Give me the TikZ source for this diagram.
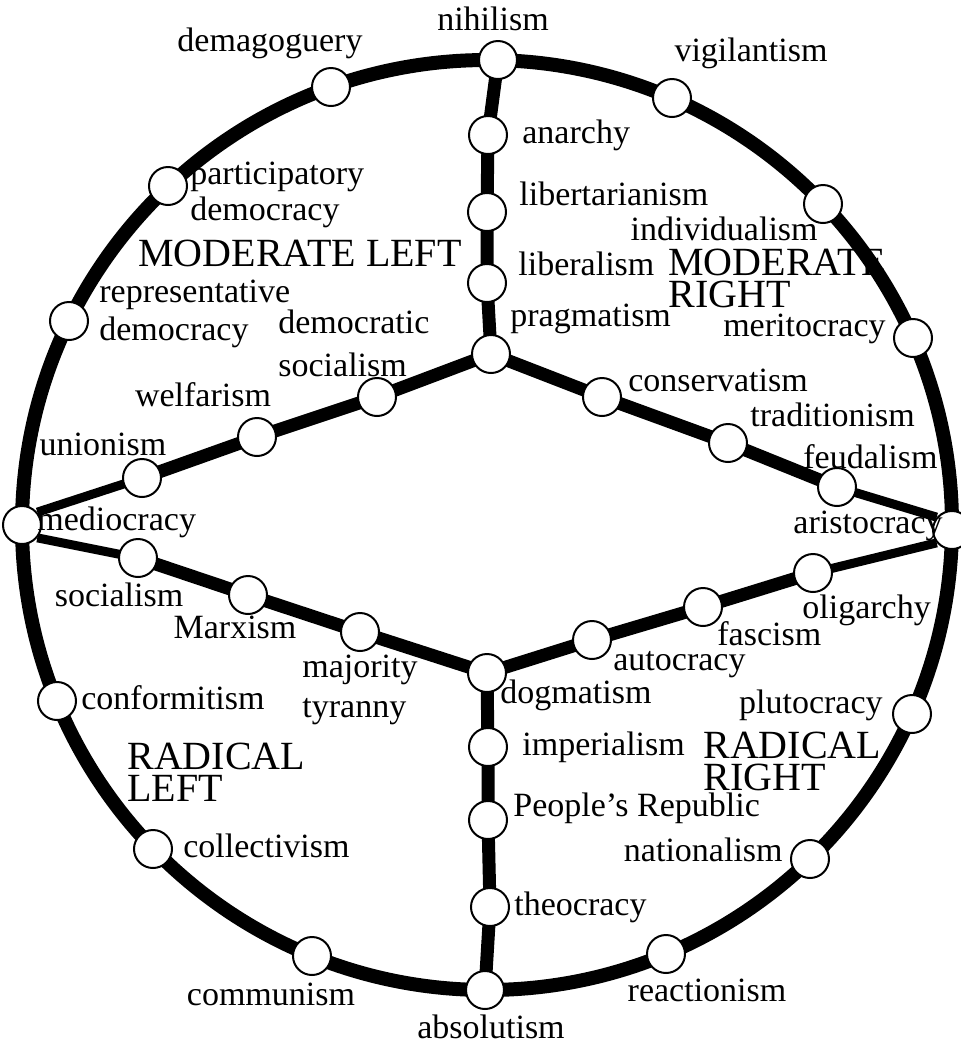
\documentclass[tikz,border=0pt]{standalone}
\usepackage{fontspec}
\setmainfont{Liberation Serif}
\usepackage{tikz}
\usetikzlibrary{positioning, backgrounds}
\newcommand{\labfont}{\fontsize{17}{18}\selectfont}
\newcommand{\zonefont}{\fontsize{20}{16}\selectfont}

\begin{document}
\begin{tikzpicture}[
    x=0.5pt, y=-0.5pt,
    ball/.style={circle, draw=black, fill=white, line width=1pt, minimum size=19pt, inner sep=0pt},
    ring/.style={draw=black, line width=7pt},
    spoke/.style={draw=black, line width=6.5pt, line join=round},
    thinspoke/.style={draw=black, line width=4.5pt},
    lab/.style={font=\labfont, inner sep=1pt, text height=12pt, text depth=3.7pt},
    lab2/.style={font=\labfont, inner sep=1pt, align=left},
    zone/.style={font=\zonefont, inner sep=0pt, align=left}
]
    \useasboundingbox (0,0) rectangle (961,1046);
    \coordinate (ctr) at (487,525);

    % Stops on the outer ring
    \node[ball] (nihilism) at (498,60) {};
    \node[ball] (vigil) at (672,98) {};
    \node[ball] (indiv) at (823,204) {};
    \node[ball] (merit) at (913,338) {};
    \node[ball] (aristo) at (952,530) {};
    \node[ball] (pluto) at (912,714) {};
    \node[ball] (nation) at (810,859) {};
    \node[ball] (react) at (666,954) {};
    \node[ball] (absol) at (485,990) {};
    \node[ball] (commun) at (312,956) {};
    \node[ball] (collect) at (153,849) {};
    \node[ball] (conform) at (57,701) {};
    \node[ball] (medio) at (22,525) {};
    \node[ball] (repr) at (69,321) {};
    \node[ball] (partic) at (168,186) {};
    \node[ball] (demag) at (331,87) {};

    % Stops on the inner spokes
    \node[ball] (anarchy) at (488,135) {};
    \node[ball] (libert) at (487,212) {};
    \node[ball] (liberal) at (487,283) {};
    \node[ball] (prag) at (491,354) {};
    \node[ball] (demsoc) at (377,397) {};
    \node[ball] (welfare) at (257,437) {};
    \node[ball] (union) at (142,478) {};
    \node[ball] (conserv) at (602,397) {};
    \node[ball] (trad) at (728,443) {};
    \node[ball] (feudal) at (837,487) {};
    \node[ball] (dogma) at (487,673) {};
    \node[ball] (social) at (138,558) {};
    \node[ball] (marx) at (248,595) {};
    \node[ball] (major) at (360,632) {};
    \node[ball] (olig) at (813,573) {};
    \node[ball] (fasc) at (703,607) {};
    \node[ball] (autoc) at (592,640) {};
    \node[ball] (imper) at (488,747) {};
    \node[ball] (people) at (488,820) {};
    \node[ball] (theoc) at (490,907) {};

    % Ring and spokes
    \begin{scope}[on background layer]
        \draw[ring] (ctr) circle[radius=232.5pt];
        \draw[spoke] (nihilism.center) -- (anarchy.center) -- (libert.center) -- (liberal.center) -- (prag.center);
        \draw[spoke] (prag.center) -- (demsoc.center) -- (welfare.center) -- (union.center);
        \draw[thinspoke] (union.center) -- (medio.40);
        \draw[spoke] (prag.center) -- (conserv.center) -- (trad.center) -- (feudal.center);
        \draw[thinspoke] (feudal.center) -- (aristo.140);
        \draw[thinspoke] (medio.-40) -- (social.center);
        \draw[spoke] (social.center) -- (marx.center) -- (major.center) -- (dogma.center);
        \draw[thinspoke] (aristo.-140) -- (olig.center);
        \draw[spoke] (olig.center) -- (fasc.center) -- (autoc.center) -- (dogma.center);
        \draw[spoke] (dogma.center) -- (imper.center) -- (people.center) -- (theoc.center) -- (absol.center);
    \end{scope}

    % Quadrant names
    \node[zone] (modleft) at (300,253) {MODERATE LEFT};
    \node[zone, anchor=west] (modright) at (668,278) {MODERATE\\RIGHT};
    \node[zone, anchor=west] (radleft) at (127,772) {RADICAL\\LEFT};
    \node[zone, anchor=west] (radright) at (703,761) {RADICAL\\RIGHT};

    % Labels, ring
    \node[lab] (nihilism-l) at (493,22) {nihilism};
    \node[lab] (vigil-l) at (751,53) {vigilantism};
    \node[lab, anchor=east] (indiv-l) at (820,232) {individualism};
    \node[lab, anchor=east] (merit-l) at (888,328) {meritocracy};
    \node[lab, anchor=east] (aristo-l) at (945,525) {aristocracy};
    \node[lab, anchor=east] (pluto-l) at (885,705) {plutocracy};
    \node[lab, anchor=east] (nation-l) at (785,853) {nationalism};
    \node[lab] (react-l) at (707,993) {reactionism};
    \node[lab] (absol-l) at (491,1030) {absolutism};
    \node[lab] (commun-l) at (271,997) {communism};
    \node[lab, right=4pt of collect] (collect-l) {collectivism};
    \node[lab, right=1pt of conform] (conform-l) {conformitism};
    \node[lab, anchor=west] (medio-l) at (35,522) {mediocracy};
    \node[lab2, anchor=west] (repr-l) at (97,314) {representative\\[1pt]democracy};
    \node[lab2, anchor=west] (partic-l) at (188,195) {participatory\\democracy};
    \node[lab] (demag-l) at (270,43) {demagoguery};

    % Labels, spokes
    \node[lab, right=6pt of anarchy] (anarchy-l) {anarchy};
    \node[lab, anchor=west] (libert-l) at (517,197) {libertarianism};
    \node[lab, anchor=west] (liberal-l) at (516,267) {liberalism};
    \node[lab, anchor=west] (prag-l) at (508,318) {pragmatism};
    \node[lab2, anchor=west] (demsoc-l) at (276,343) {democratic\\[3.5pt]socialism};
    \node[lab] (welfare-l) at (203,398) {welfarism};
    \node[lab] (union-l) at (103,447) {unionism};
    \node[lab, anchor=west] (conserv-l) at (626,383) {conservatism};
    \node[lab, anchor=west] (trad-l) at (748,418) {traditionism};
    \node[lab, anchor=west] (feudal-l) at (801,460) {feudalism};
    \node[lab] (social-l) at (119,598) {socialism};
    \node[lab] (marx-l) at (235,630) {Marxism};
    \node[lab2, anchor=west] (major-l) at (300,690) {majority\\[2pt]tyranny};
    \node[lab, anchor=west] (olig-l) at (800,610) {oligarchy};
    \node[lab, anchor=west] (fasc-l) at (715,637) {fascism};
    \node[lab, anchor=west] (autoc-l) at (611,662) {autocracy};
    \node[lab, anchor=west] (dogma-l) at (498,695) {dogmatism};
    \node[lab, right=6pt of imper] (imper-l) {imperialism};
    \node[lab, anchor=west] (people-l) at (511,808) {People’s Republic};
    \node[lab, right=1pt of theoc] (theoc-l) {theocracy};
\end{tikzpicture}
\end{document}
